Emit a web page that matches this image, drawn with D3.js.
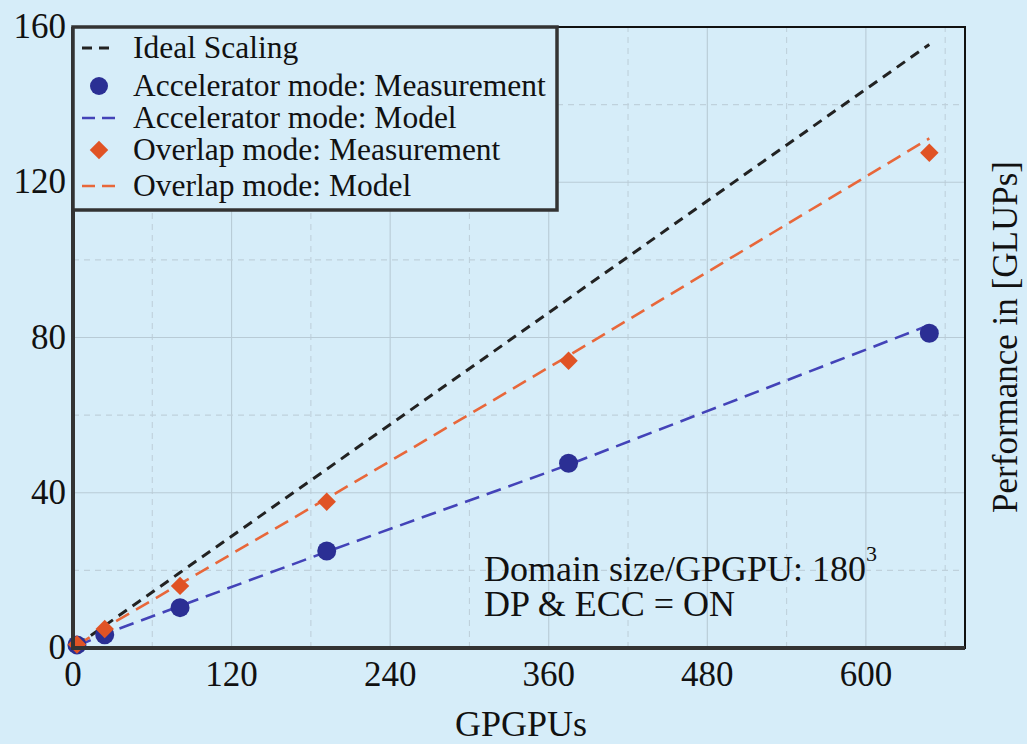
<!DOCTYPE html>
<html>
<head>
<meta charset="utf-8">
<script src="https://cdn.jsdelivr.net/npm/d3@7"></script>
<style>
  html, body { margin: 0; padding: 0; background: #d6edf9; }
  svg { display: block; }
</style>
</head>
<body>
<div id="chart"></div>
<script>
// data
var gpus = [3, 24, 81, 192, 375, 648];
var ideal = [0.72, 5.76, 19.44, 46.08, 90.0, 155.5];
var accelMeasured = [0.8, 3.4, 10.4, 25.0, 47.6, 81.1];
var accelModel = [0.5, 3.6, 10.8, 24.8, 47.2, 83.2];
var overlapMeasured = [0.9, 4.9, 16.0, 37.7, 74.0, 127.6];
var overlapModel = [0.7, 5.2, 16.5, 38.5, 75.3, 131.3];
var xTicks = [0, 120, 240, 360, 480, 600];
var xMinor = [60, 180, 300, 420, 540, 660];
var yTicks = [0, 40, 80, 120, 160];
var yMinor = [20, 60, 100, 140];
var legendLabels = ["Ideal Scaling", "Accelerator mode: Measurement", "Accelerator mode: Model",
                    "Overlap mode: Measurement", "Overlap mode: Model"];

var width = 1027, height = 744;
var blueDot = "#2b2f94", blueLine = "#4343b8",
    orangeDot = "#e05325", orangeLine = "#e8673a",
    blackLine = "#222222", frame = "#333333";

var svg = d3.select("#chart").append("svg")
    .attr("width", width)
    .attr("height", height);

svg.append("rect").attr("width", width).attr("height", height).attr("fill", "#d6edf9");

var x = d3.scaleLinear().domain([0, 675]).range([73, 965]);
var y = d3.scaleLinear().domain([0, 160]).range([648, 27]);

// grid
var grid = svg.append("g");
grid.selectAll(".vmaj").data(xTicks.slice(1)).enter().append("line")
    .attr("x1", function(d) { return x(d); }).attr("x2", function(d) { return x(d); })
    .attr("y1", y(0)).attr("y2", y(160))
    .attr("stroke", "#b8cbd6").attr("stroke-width", 1.1);
grid.selectAll(".vmin").data(xMinor).enter().append("line")
    .attr("x1", function(d) { return x(d); }).attr("x2", function(d) { return x(d); })
    .attr("y1", y(0)).attr("y2", y(160))
    .attr("stroke", "#bfd1dc").attr("stroke-width", 1.1).attr("stroke-dasharray", "6,5");
grid.selectAll(".hmaj").data(yTicks.slice(1, -1)).enter().append("line")
    .attr("y1", function(d) { return y(d); }).attr("y2", function(d) { return y(d); })
    .attr("x1", x(0)).attr("x2", x(675))
    .attr("stroke", "#b8cbd6").attr("stroke-width", 1.1);
grid.selectAll(".hmin").data(yMinor).enter().append("line")
    .attr("y1", function(d) { return y(d); }).attr("y2", function(d) { return y(d); })
    .attr("x1", x(0)).attr("x2", x(675))
    .attr("stroke", "#bfd1dc").attr("stroke-width", 1.1).attr("stroke-dasharray", "6,5");

// lines
var line = d3.line()
    .x(function(d) { return x(d[0]); })
    .y(function(d) { return y(d[1]); });

function drawLine(vals, color, dash, w) {
  svg.append("path")
    .datum(d3.zip(gpus, vals))
    .attr("d", line)
    .attr("fill", "none")
    .attr("stroke", color)
    .attr("stroke-width", w)
    .attr("stroke-dasharray", dash);
}
drawLine(ideal, blackLine, "10,7", 3);
drawLine(accelModel, blueLine, "15,8", 2.6);
drawLine(overlapModel, orangeLine, "15,8", 2.6);

// markers
var diamond = d3.symbol().type(d3.symbolSquare).size(170);
svg.selectAll(".acc").data(d3.zip(gpus, accelMeasured)).enter().append("circle")
    .attr("cx", function(d) { return x(d[0]); })
    .attr("cy", function(d) { return y(d[1]); })
    .attr("r", 9.5)
    .attr("fill", blueDot);
svg.selectAll(".ovl").data(d3.zip(gpus, overlapMeasured)).enter().append("path")
    .attr("d", diamond)
    .attr("transform", function(d) { return "translate(" + x(d[0]) + "," + y(d[1]) + ") rotate(45)"; })
    .attr("fill", orangeDot);

// frame
svg.append("rect")
    .attr("x", x(0)).attr("y", y(160))
    .attr("width", x(675) - x(0)).attr("height", y(0) - y(160))
    .attr("fill", "none").attr("stroke", "#111").attr("stroke-width", 2);
svg.append("line").attr("x1", x(0)).attr("x2", x(0)).attr("y1", y(160)).attr("y2", y(0) + 2)
    .attr("stroke", frame).attr("stroke-width", 4);
svg.append("line").attr("x1", x(0) - 2).attr("x2", x(675)).attr("y1", y(0)).attr("y2", y(0))
    .attr("stroke", frame).attr("stroke-width", 4);

// tick labels
var font = "'Liberation Serif', 'Times New Roman', serif";
svg.selectAll(".xl").data(xTicks).enter().append("text")
    .attr("x", function(d) { return x(d); })
    .attr("y", 686)
    .attr("text-anchor", "middle")
    .style("font-family", font).style("font-size", "35px").attr("fill", "#111")
    .text(function(d) { return d; });
svg.selectAll(".yl").data(yTicks).enter().append("text")
    .attr("x", 66)
    .attr("y", function(d) { return y(d) + 11; })
    .attr("text-anchor", "end")
    .style("font-family", font).style("font-size", "35px").attr("fill", "#111")
    .text(function(d) { return d; });

// axis titles
svg.append("text")
    .attr("x", 521).attr("y", 736)
    .attr("text-anchor", "middle")
    .style("font-family", font).style("font-size", "36px").attr("fill", "#111")
    .text("GPGPUs");
svg.append("text")
    .attr("transform", "translate(1017,337) rotate(-90)")
    .attr("text-anchor", "middle")
    .style("font-family", font).style("font-size", "35px").attr("fill", "#111")
    .text("Performance in [GLUPs]");

// annotation
var note = svg.append("text")
    .attr("x", 484).attr("y", 581)
    .style("font-family", font).style("font-size", "36px").attr("fill", "#111");
note.append("tspan").text("Domain size/GPGPU: 180");
note.append("tspan").attr("dy", -20).style("font-size", "22px").text("3");
svg.append("text")
    .attr("x", 484).attr("y", 616)
    .style("font-family", font).style("font-size", "36px").attr("fill", "#111")
    .text("DP & ECC = ON");

// legend
var legend = svg.append("g");
legend.append("rect")
    .attr("x", x(0)).attr("y", y(160))
    .attr("width", 484).attr("height", 183)
    .attr("fill", "#d6edf9").attr("stroke", frame).attr("stroke-width", 3.5);
var rowY = [48, 86, 118, 150, 186];
legendLabels.forEach(function(t, i) {
  legend.append("text")
    .attr("x", 133).attr("y", rowY[i] + 10)
    .style("font-family", font).style("font-size", "31.5px").attr("fill", "#111")
    .text(t);
});
legend.append("line").attr("x1", 82).attr("x2", 115).attr("y1", rowY[0]).attr("y2", rowY[0])
    .attr("stroke", blackLine).attr("stroke-width", 3).attr("stroke-dasharray", "10,7");
legend.append("circle").attr("cx", 99).attr("cy", rowY[1]).attr("r", 9).attr("fill", blueDot);
legend.append("line").attr("x1", 82).attr("x2", 115).attr("y1", rowY[2]).attr("y2", rowY[2])
    .attr("stroke", blueLine).attr("stroke-width", 2.6).attr("stroke-dasharray", "13,7");
legend.append("path").attr("d", diamond)
    .attr("transform", "translate(99," + rowY[3] + ") rotate(45)").attr("fill", orangeDot);
legend.append("line").attr("x1", 82).attr("x2", 115).attr("y1", rowY[4]).attr("y2", rowY[4])
    .attr("stroke", orangeLine).attr("stroke-width", 2.6).attr("stroke-dasharray", "13,7");
</script>
</body>
</html>
